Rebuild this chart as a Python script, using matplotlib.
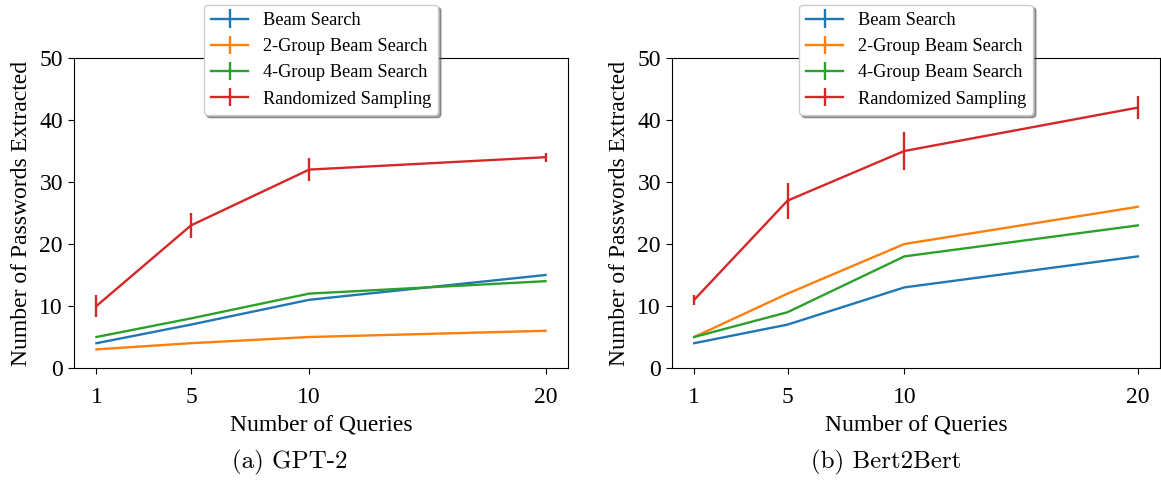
import matplotlib.pyplot as plt

# queries on the x axis
queries = [1, 5, 10, 20]

# GPT-2 results
gpt2_beam = [4, 7, 11, 15]
gpt2_group2 = [3, 4, 5, 6]
gpt2_group4 = [5, 8, 12, 14]
gpt2_random = [10, 23, 32, 34]
gpt2_random_err = [1.8, 2.0, 1.8, 0.7]

# Bert2Bert results
bert_beam = [4, 7, 13, 18]
bert_group2 = [5, 12, 20, 26]
bert_group4 = [5, 9, 18, 23]
bert_random = [11, 27, 35, 42]
bert_random_err = [0.8, 2.9, 3.0, 1.9]

no_err = [0, 0, 0, 0]

labels = ["Beam Search", "2-Group Beam Search", "4-Group Beam Search", "Randomized Sampling"]
colours = ["#1f77b4", "#ff7f0e", "#2ca02c", "#d62728"]

plt.rcParams['font.family'] = ['Liberation Serif', 'DejaVu Serif']


def plot_panel(ax, series, errors, caption, caption_x):
    for i, (vals, err) in enumerate(zip(series, errors)):
        ax.errorbar(queries, vals, yerr=err, color=colours[i], lw=1.7,
                    elinewidth=1.7, capsize=0, label=labels[i])
    ax.set_ylim(0, 50)
    ax.set_xticks(queries)
    ax.set_yticks(range(0, 51, 10))
    ax.tick_params(labelsize=17, length=4.5)
    ax.tick_params(axis="x", pad=9)
    ax.set_xlabel("Number of Queries", fontsize=17, labelpad=5)
    ax.set_ylabel("Number of Passwords Extracted", fontsize=17, labelpad=5)
    ax.legend(loc="upper center", bbox_to_anchor=(0.5, 1.172), fontsize=13.2,
              shadow=True, framealpha=1, fancybox=True, borderaxespad=0,
              labelspacing=0.5)
    # sub-figure caption below the panel
    fig.text(caption_x, 18 / 480, caption, ha="center", va="center",
             fontsize=18, family="cmr10")


fig = plt.figure(figsize=(11.61, 4.8), dpi=100)
ax1 = fig.add_axes([74 / 1161, 112 / 480, 494 / 1161, 310 / 480])
ax2 = fig.add_axes([672 / 1161, 112 / 480, 488 / 1161, 310 / 480])

plot_panel(ax1, [gpt2_beam, gpt2_group2, gpt2_group4, gpt2_random],
           [no_err, no_err, no_err, gpt2_random_err], "(a) GPT-2", 290 / 1161)
plot_panel(ax2, [bert_beam, bert_group2, bert_group4, bert_random],
           [no_err, no_err, no_err, bert_random_err], "(b) Bert2Bert", 886 / 1161)

fig.savefig("out.png", dpi=100)
